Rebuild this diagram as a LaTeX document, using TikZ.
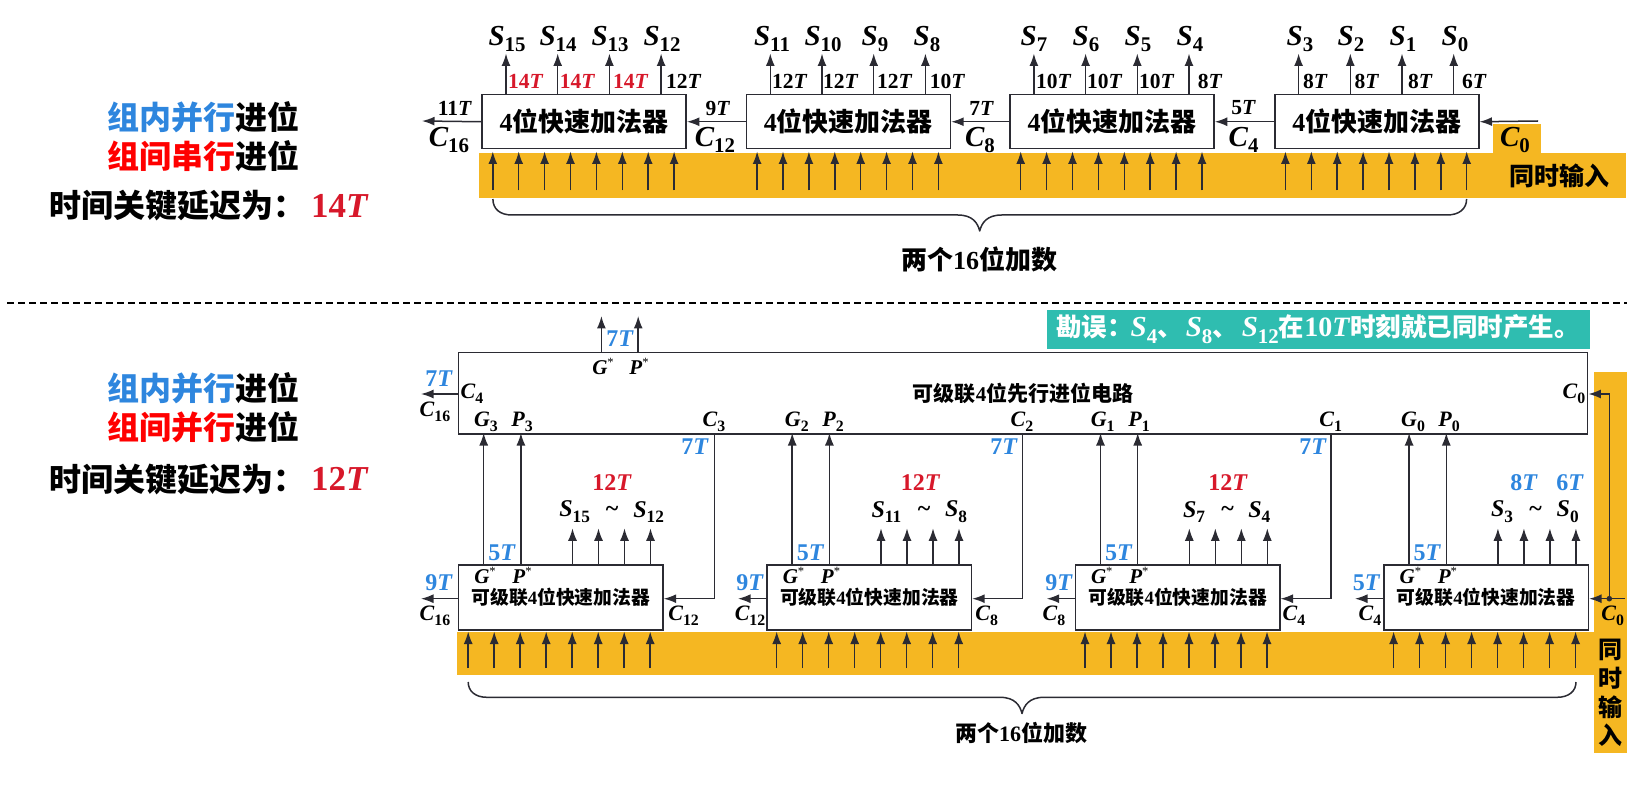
\documentclass[tikz,border=0pt]{standalone}
\usepackage{fontspec}
\usepackage{graphicx}
\usetikzlibrary{arrows.meta,calc}
\setmainfont{Liberation Serif}
\newfontfamily\cjk{Noto Sans CJK SC}
\newcommand{\zh}[1]{{\cjk\bfseries #1}}
\newcommand{\sv}[2]{{\bfseries\itshape #1}\raisebox{-0.22em}{\scalebox{0.72}{\bfseries #2}}}
\newcommand{\TT}[1]{{\bfseries #1\textit{T}}}
\newcommand{\gs}[1]{{\bfseries\itshape #1}\raisebox{0.38em}{\scalebox{0.6}{*}}}
\newcommand{\fs}[1]{\fontsize{#1}{#1}\selectfont}
\definecolor{barY}{HTML}{F5B722}
\definecolor{tealN}{HTML}{2FBDB0}
\definecolor{blueD}{HTML}{2E86DE}
\definecolor{redD}{HTML}{D7182A}
\definecolor{lineD}{HTML}{2B2B33}
\tikzset{
  arr/.style={line width=1.5pt,draw=lineD,-{Latex[length=12.5pt,width=9pt]}},
  wire/.style={line width=1.5pt,draw=lineD},
  tbox/.style={draw=lineD,line width=1.5pt,fill=white,inner sep=0pt,anchor=north west,minimum width=204pt,minimum height=54pt,font=\fs{26}},
  lbox/.style={draw=lineD,line width=1.5pt,fill=white,inner sep=0pt,anchor=north west,minimum width=204.3pt,minimum height=65pt,font=\fs{18.8}},
  bigbox/.style={draw=lineD,line width=1.5pt,fill=white,inner sep=0pt,anchor=north west,minimum width=1129pt,minimum height=81pt,font=\fs{21}},
  stop/.style={inner sep=0pt,font=\fs{29}},
  dtop/.style={inner sep=0pt,anchor=west,font=\fs{21.5}},
  cbig/.style={inner sep=0pt,font=\fs{29}},
  clow/.style={inner sep=0pt,font=\fs{22}},
  glab/.style={inner sep=0pt,font=\fs{21}},
  dlow/.style={inner sep=0pt,font=\fs{24},text=blueD},
  side/.style={inner sep=0pt,font=\fs{32}},
  brace/.style={line width=1.5pt,draw=lineD,line join=round},
}
\begin{document}
\begin{tikzpicture}[x=1pt,y=-1pt]
\useasboundingbox (0,0) rectangle (1649,791);
% ---- coloured bands
\fill[barY] (479,152.7) rectangle (1626,198);
\fill[barY] (1493,124) rectangle (1541,153);
\fill[barY] (456.8,632) rectangle (1594,675);
\fill[barY] (1594,371.7) rectangle (1627,752.7);
\fill[tealN] (1046.7,310) rectangle (1590,349);
% ---- dashed separator
\draw[line width=1.6pt,black,dash pattern=on 6.5pt off 4.5pt] (7,303) -- (1627,303);
% ---- top row boxes
\node[tbox] (T3) at (481.4,94) {\bfseries 4\zh{位快速加法器}};
\node[tbox] (T2) at (745.7,94) {\bfseries 4\zh{位快速加法器}};
\node[tbox] (T1) at (1009.3,94) {\bfseries 4\zh{位快速加法器}};
\node[tbox] (T0) at (1274,94) {\bfseries 4\zh{位快速加法器}};
\foreach \b in {T3,T2,T1,T0}{
  \foreach \dx in {24.6,76.3,128,179.7}
    \draw[arr] ($(\b.north west)+(\dx,0)$) -- ($(\b.north west)+(\dx,-40.5)$);
  \foreach \i in {0,...,7}
    \draw[arr] ($(\b.south west)+(11.4+25.9*\i,41)$) -- ($(\b.south west)+(11.4+25.9*\i,2)$);
}
\coordinate (CinT) at (1538,121);
\coordinate (CoutT) at (422,121);
\draw[arr] (T3.west) -- (CoutT);
\draw[arr] (T2.west) -- (T3.east);
\draw[arr] (T1.west) -- (T2.east);
\draw[arr] (T0.west) -- (T1.east);
\draw[arr] (CinT) -- (T0.east);
% top S labels
\foreach \n/\x/\t in {a15/507/{15},a14/558/{14},a13/610/{13},a12/662/{12},a11/772/{11},a10/823/{10},a9/875/{9},a8/927/{8},a7/1034/{7},a6/1086/{6},a5/1138/{5},a4/1190/{4},a3/1300/{3},a2/1351/{2},a1/1403/{1},a0/1455/{0}}
  \node[stop] (\n) at (\x,39) {\sv{S}{\t}};
% top delays
\foreach \n/\x in {da/508,db/559.6,dc/613}
  \node[dtop,text=redD] (\n) at (\x,81.7) {\TT{14}};
\foreach \n/\x/\t in {dd/666/12,de/772/12,df/823/12,dg/877/12,dh/929.6/10,di/1036/10,dj/1087/10,dk/1139/10,dl/1197.7/8,dm/1303/8,dn/1354.5/8,dp/1408/8,dq/1462/6}
  \node[dtop] (\n) at (\x,81.7) {\TT{\t}};
\foreach \n/\x/\t in {ea/455/11,eb/718/9,ec/981.7/7,ed/1243.6/5}
  \node[inner sep=0pt,font=\fs{21.5}] (\n) at (\x,108) {\TT{\t}};
\foreach \n/\x/\t in {fa/449/16,fb/715/12,fc/980/8,fd/1243.6/4,fe/1515/0}
  \node[cbig] (\n) at (\x,140) {\sv{C}{\t}};
\node[inner sep=0pt,font=\fs{25}] (tin) at (1559,176) {\zh{同时输入}};
% top brace
\coordinate (brAl) at (492.9,199);
\coordinate (brAr) at (1466.6,199);
\coordinate (brAt) at (979.7,231);
\draw[brace] (brAl) .. controls (492.9,209) and (500,215) .. (512,215) -- ($(brAt)+(-22,-16)$) .. controls ($(brAt)+(-7,-16)$) and ($(brAt)+(-2,-8)$) .. (brAt) .. controls ($(brAt)+(2,-8)$) and ($(brAt)+(7,-16)$) .. ($(brAt)+(22,-16)$) -- (1447,215) .. controls (1459,215) and (1466.6,209) .. (brAr);
\node[inner sep=0pt,font=\fs{26}] (tw1) at (979,259) {\zh{两个}\textbf{16}\zh{位加数}};
% ---- big carry box
\node[bigbox] (BIG) at (457.9,352) {\raisebox{0.5pt}{\zh{可级联}\textbf{4}\zh{位先行进位电路}}};
% ---- lower boxes
\node[lbox] (L3) at (457.9,564) {\raisebox{-1.5pt}{\zh{可级联}\textbf{4}\zh{位快速加法器}}};
\node[lbox] (L2) at (766.4,564) {\raisebox{-1.5pt}{\zh{可级联}\textbf{4}\zh{位快速加法器}}};
\node[lbox] (L1) at (1074.7,564) {\raisebox{-1.5pt}{\zh{可级联}\textbf{4}\zh{位快速加法器}}};
\node[lbox] (L0) at (1383.3,564) {\raisebox{-1.5pt}{\zh{可级联}\textbf{4}\zh{位快速加法器}}};
\foreach \b in {L3,L2,L1,L0}{
  \foreach \dx in {114.6,140.6,166.6,192.6}
    \draw[arr] ($(\b.north west)+(\dx,0)$) -- ($(\b.north west)+(\dx,-35.7)$);
  \foreach \i in {0,...,7}
    \draw[arr] ($(\b.south west)+(10.3+26*\i,37.7)$) -- ($(\b.south west)+(10.3+26*\i,1)$);
  \draw[arr] ($(\b.north west)+(25.8,0)$) -- ($(\b.north west)+(25.8,-131)$);
  \draw[arr] ($(\b.north west)+(63,0)$) -- ($(\b.north west)+(63,-131)$);
}
% carries from big box
\coordinate (OutL3) at (421,598.7);
\coordinate (OutL2) at (738,598.7);
\coordinate (OutL1) at (1046.7,598.7);
\coordinate (OutL0) at (1355,598.7);
\foreach \b/\o in {L3/OutL3,L2/OutL2,L1/OutL1,L0/OutL0}
  \draw[arr] ($(\b.north west)+(0,34.7)$) -- (\o);
\foreach \b/\x in {L3/714.3,L2/1022.3,L1/1331}
  \draw[arr] (\x,433) -- (\x,598.7) -- ($(\b.north east)+(0,34.7)$);
% big box outputs
\coordinate (Gtop) at (601.4,316);
\coordinate (Ptop) at (638.2,316);
\coordinate (BigOut) at (421,394);
\draw[arr] ($(BIG.north west)+(143.5,0)$) -- (Gtop);
\draw[arr] ($(BIG.north west)+(180.3,0)$) -- (Ptop);
\draw[arr] ($(BIG.north west)+(0,42)$) -- (BigOut);
% C0 lines
\coordinate (C0end) at (1625,598.7);
\coordinate (C0dot) at (1609.3,598.7);
\draw[arr] (C0end) -- ($(L0.north east)+(0,34.7)$);
\draw[arr] (C0dot) -- (1609.3,394) -- ($(BIG.north east)+(0,42)$);
\fill[lineD] (C0dot) circle (2.8pt);
% big box labels
\foreach \n/\x/\t in {gs3/603/G,ps3/639/P}
  \node[glab] (\n) at (\x,366) {\gs{\t}};
\node[dlow] (d7top) at (620,339) {\TT{7}};
\node[clow] (c4big) at (472,394) {\sv{C}{4}};
\node[dlow] (d7l) at (439,379) {\TT{7}};
\node[clow] (c16big) at (435,412) {\sv{C}{16}};
\foreach \n/\x/\t/\s in {g3/486/G/3,p3/522/P/3,c3/714/C/3,g2/796.8/G/2,p2/833/P/2,c2/1022/C/2,g1/1102.7/G/1,p1/1139/P/1,c1/1330.7/C/1,g0/1413/G/0,p0/1449/P/0}
  \node[clow] (\n) at (\x,421.7) {\sv{\t}{\s}};
\node[clow] (c0big) at (1574,394) {\sv{C}{0}};
\foreach \n/\x in {d7a/695,d7b/1004,d7c/1313}
  \node[dlow] (\n) at (\x,446.7) {\TT{7}};
% lower labels
\foreach \n/\x in {la/0,lb/308.5,lc/616.8,ld/925.4}{
  \node[glab] (\n g) at ($(485,575.7)+(\x,0)$) {\gs{G}};
  \node[glab] (\n p) at ($(522,575.7)+(\x,0)$) {\gs{P}};
  \node[dlow] (\n t) at ($(502,552.7)+(\x,0)$) {\TT{5}};
}
\foreach \n/\x in {ma/612,mb/920.5,mc/1228}
  \node[inner sep=0pt,font=\fs{24},text=redD] (\n) at (\x,483) {\TT{12}};
\node[dlow] (d8s) at (1524,483) {\TT{8}};
\node[dlow] (d6s) at (1570,483) {\TT{6}};
\foreach \n/\x/\t in {s15/574.6/15,s12/648.6/12,s11/886.4/11,s8/956/8,s7/1194/7,s4/1259.3/4,s3/1502/3,s0/1567.7/0}
  \node[clow,font=\fs{24}] (\n) at (\x,511.7) {\sv{S}{\t}};
\foreach \n/\x in {ti1/612,ti2/924,ti3/1227.7,ti4/1535.7}
  \node[inner sep=0pt,font=\fs{24}] (\n) at (\x,511) {\textbf{\char"007E}};
\foreach \n/\x/\t in {n1/439/9,n2/750/9,n3/1059/9,n4/1366.7/5}
  \node[dlow] (\n) at (\x,583) {\TT{\t}};
\foreach \n/\x/\t in {k1/435/16,k2/683.6/12,k3/750/12,k4/986.7/8,k5/1054/8,k6/1294/4,k7/1370/4,k8/1612.7/0}
  \node[clow] (\n) at (\x,615.5) {\sv{C}{\t}};
% vertical input label
\foreach \n/\y/\t in {v1/650/同,v2/678/时,v3/707/输,v4/735/入}
  \node[inner sep=0pt,font=\fs{24}] (\n) at (1610.5,\y) {\zh{\t}};
% lower brace
\coordinate (brBl) at (468.2,682);
\coordinate (brBr) at (1576,682);
\coordinate (brBt) at (1022,713.5);
\draw[brace] (brBl) .. controls (468.2,691) and (475,697.3) .. (487,697.3) -- ($(brBt)+(-22,-16.2)$) .. controls ($(brBt)+(-7,-16.2)$) and ($(brBt)+(-2,-8)$) .. (brBt) .. controls ($(brBt)+(2,-8)$) and ($(brBt)+(7,-16.2)$) .. ($(brBt)+(22,-16.2)$) -- (1557,697.3) .. controls (1569,697.3) and (1576,691) .. (brBr);
\node[inner sep=0pt,font=\fs{22}] (tw2) at (1021,733) {\zh{两个}\textbf{16}\zh{位加数}};
% note
\node[inner sep=0pt,anchor=west,text=white,font=\fs{25.5}] (note) at (1056,329)
  {\zh{勘误：}\hspace{-2pt}{\fs{29}\sv{S}{4}}\zh{、}\hspace{3pt}{\fs{29}\sv{S}{8}}\zh{、}\hspace{4pt}{\fs{29}\sv{S}{12}}\zh{在}{\fs{28}\textbf{10}\textit{\textbf{T}}}\zh{时刻就已同时产生。}};
% side captions
\node[side] (s1a) at (203,116.7) {\zh{\textcolor{blueD}{组内并行}进位}};
\node[side] (s1b) at (203,156) {\zh{\textcolor{red}{组间串行}进位}};
\node[inner sep=0pt,font=\fs{32},anchor=west] (s1c) at (49,206) {\zh{时间关键延迟为：}};
\node[inner sep=0pt,font=\fs{35},text=redD] (s1d) at (340,206) {\TT{14}};
\node[side] (s2a) at (203,388) {\zh{\textcolor{blueD}{组内并行}进位}};
\node[side] (s2b) at (203,426.7) {\zh{\textcolor{red}{组间并行}进位}};
\node[inner sep=0pt,font=\fs{32},anchor=west] (s2c) at (49,479) {\zh{时间关键延迟为：}};
\node[inner sep=0pt,font=\fs{35},text=redD] (s2d) at (340,479) {\TT{12}};
\end{tikzpicture}
\end{document}
